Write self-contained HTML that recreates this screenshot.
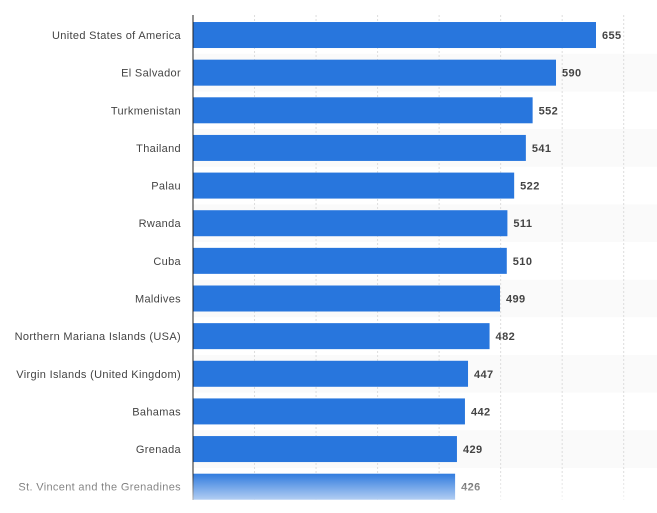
<!DOCTYPE html>
<html><head><meta charset="utf-8"><style>
html,body{margin:0;padding:0;background:#fff;width:657px;height:513px;overflow:hidden;font-family:"Liberation Sans",sans-serif;}
</style></head><body>
<svg id="chart" width="657" height="513"></svg>
<script>
const categories=["United States of America","El Salvador","Turkmenistan","Thailand","Palau","Rwanda","Cuba","Maldives","Northern Mariana Islands (USA)","Virgin Islands (United Kingdom)","Bahamas","Grenada","St. Vincent and the Grenadines"];
const values=[655,590,552,541,522,511,510,499,482,447,442,429,426];
const gridTicks=[100,200,300,400,500,600,700];
const NS="http://www.w3.org/2000/svg";
const svg=document.getElementById('chart');
const x0=193,pxPer=403/655,rowTop=16.2,rowH=37.64,barH=26;
const xs=v=>x0+v*pxPer;
const yc=i=>rowTop+rowH*i+rowH/2;
function mk(t,a){const e=document.createElementNS(NS,t);for(const k in a)e.setAttribute(k,a[k]);svg.appendChild(e);return e;}
const defs=mk('defs',{});
defs.innerHTML='<linearGradient id="fade" x1="0" y1="0" x2="0" y2="1"><stop offset="0" stop-color="#fff" stop-opacity="0"/><stop offset="1" stop-color="#fff" stop-opacity="0.95"/></linearGradient>';
categories.forEach((c,i)=>{if(i%2===1){const r=mk('rect',{x:x0,y:rowTop+rowH*i,width:657-x0,height:rowH,fill:'#fafafa'});

}});
gridTicks.forEach(t=>{const l=mk('line',{x1:xs(t),x2:xs(t),y1:15,y2:500,stroke:'#ddd','stroke-dasharray':'2,2'});

});
categories.forEach((c,i)=>{
const b=mk('rect',{x:x0,y:yc(i)-barH/2,width:xs(values[i])-x0,height:barH,fill:'#2876dd'});


const lb=mk('text',{x:181,y:yc(i)+4,'text-anchor':'end','font-size':'11','letter-spacing':'0.33',fill:'#444'});lb.textContent=c;


const v=mk('text',{x:xs(values[i])+6,y:yc(i)+4,'font-size':'11','font-weight':'bold','letter-spacing':'0.4',fill:'#444'});v.textContent=values[i];


});
const ax=mk('line',{x1:x0,x2:x0,y1:15,y2:500,stroke:'#222','stroke-width':1});


const f=mk('rect',{x:0,y:472,width:657,height:41,fill:'url(#fade)'});


</script>
</body></html>
